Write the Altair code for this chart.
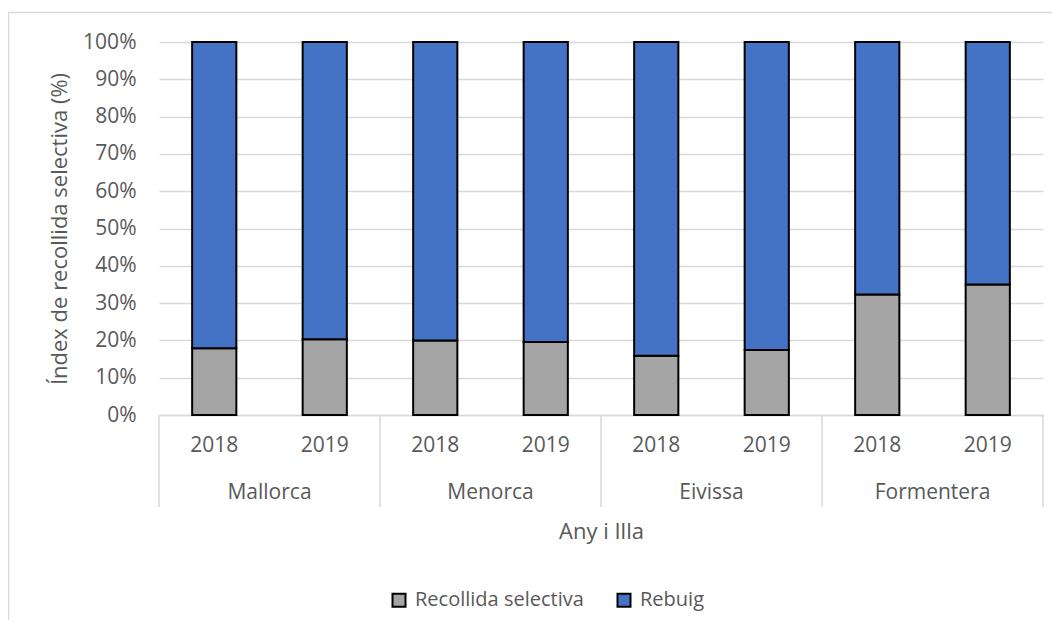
import altair as alt
import pandas as pd

islands = ["Mallorca", "Menorca", "Eivissa", "Formentera"]
years = ["2018", "2019"]
recollida = [17.9, 20.3, 20.0, 19.6, 15.9, 17.4, 32.3, 35.0]
rebuig = [82.1, 79.7, 80.0, 80.4, 84.1, 82.6, 67.7, 65.0]
series = ["Recollida selectiva", "Rebuig"]
colors = ["#a5a5a5", "#4472c4"]
y_ticks = [0, 10, 20, 30, 40, 50, 60, 70, 80, 90, 100]

FONT = "Open Sans"
TXT = "#595959"
GRID = "#d9d9d9"
W, H = 884, 373

keys = []
rows = []
i = 0
for isl in islands:
    for yr in years:
        key = f"{isl}|{yr}"
        keys.append(key)
        rows.append({"key": key, "serie": series[0], "value": recollida[i], "ord": 0})
        rows.append({"key": key, "serie": series[1], "value": rebuig[i], "ord": 1})
        i += 1
df = pd.DataFrame(rows)

n_years = len(years)
bounds = pd.DataFrame({"pos": [k * n_years for k in range(len(islands) + 1)]})
labels = pd.DataFrame({"pos": [k * n_years + n_years / 2 for k in range(len(islands))],
                       "island": islands})

axis_style = dict(labelFont=FONT, titleFont=FONT, labelColor=TXT, titleColor=TXT,
                  labelFontSize=21, titleFontSize=22, titleFontWeight="normal")

bars = alt.Chart(df).mark_bar(stroke="black", strokeWidth=2).encode(
    x=alt.X("key:N", sort=keys,
            scale=alt.Scale(paddingInner=0.6, paddingOuter=0.3),
            axis=alt.Axis(title="Any i Illa", labelExpr="split(datum.value, '|')[1]",
                          labelAngle=0, ticks=False, domain=True, domainColor=GRID,
                          domainWidth=1.5, labelPadding=19, titlePadding=66,
                          **axis_style)),
    y=alt.Y("value:Q", stack="zero",
            scale=alt.Scale(domain=[0, 100], nice=False),
            axis=alt.Axis(title="Índex de recollida selectiva (%)", values=y_ticks,
                          labelExpr="datum.value + '%'", ticks=False, domain=False,
                          gridColor=GRID, gridWidth=1.5, labelPadding=23,
                          titlePadding=11, **axis_style)),
    color=alt.Color("serie:N", scale=alt.Scale(domain=series, range=colors),
                    legend=alt.Legend(title=None, orient="none", direction="horizontal",
                                      legendX=230, legendY=548, symbolType="square",
                                      symbolSize=169, symbolStrokeColor="black",
                                      symbolStrokeWidth=2, labelFontSize=20,
                                      labelOffset=6, columnPadding=29, labelLimit=400,
                                      labelFont=FONT, labelColor=TXT)),
    order=alt.Order("ord:Q"),
)

xq = alt.Scale(domain=[0, len(keys)])
seps = alt.Chart(bounds).mark_rule(color=GRID, strokeWidth=1.5).encode(
    x=alt.X("pos:Q", scale=xq, axis=None),
    y=alt.value(H),
    y2=alt.value(H + 92),
)

isl_text = alt.Chart(labels).mark_text(font=FONT, fontSize=21, color=TXT,
                                       baseline="middle").encode(
    x=alt.X("pos:Q", scale=xq, axis=None),
    y=alt.value(H + 78),
    text="island:N",
)

frame_df = pd.DataFrame({"edge": ["left", "top"]})
frame_left = alt.Chart(frame_df.iloc[:1]).mark_rule(color=GRID, strokeWidth=1.5).encode(
    x=alt.value(-150.5), y=alt.value(-29.5), y2=alt.value(H + 260))
frame_top = alt.Chart(frame_df.iloc[1:]).mark_rule(color=GRID, strokeWidth=1.5).encode(
    x=alt.value(-150.5), x2=alt.value(W + 20), y=alt.value(-29.5))

chart = alt.layer(bars, seps, isl_text, frame_left, frame_top).resolve_scale(
    x="independent"
).properties(
    width=W, height=H,
    background="white",
    autosize=alt.AutoSizeParams(type="none"),
    padding={"left": 151, "top": 34, "right": 9, "bottom": 205},
).configure_view(stroke=None)

chart.save("out.html", embed_options={"renderer": "svg", "actions": False})
